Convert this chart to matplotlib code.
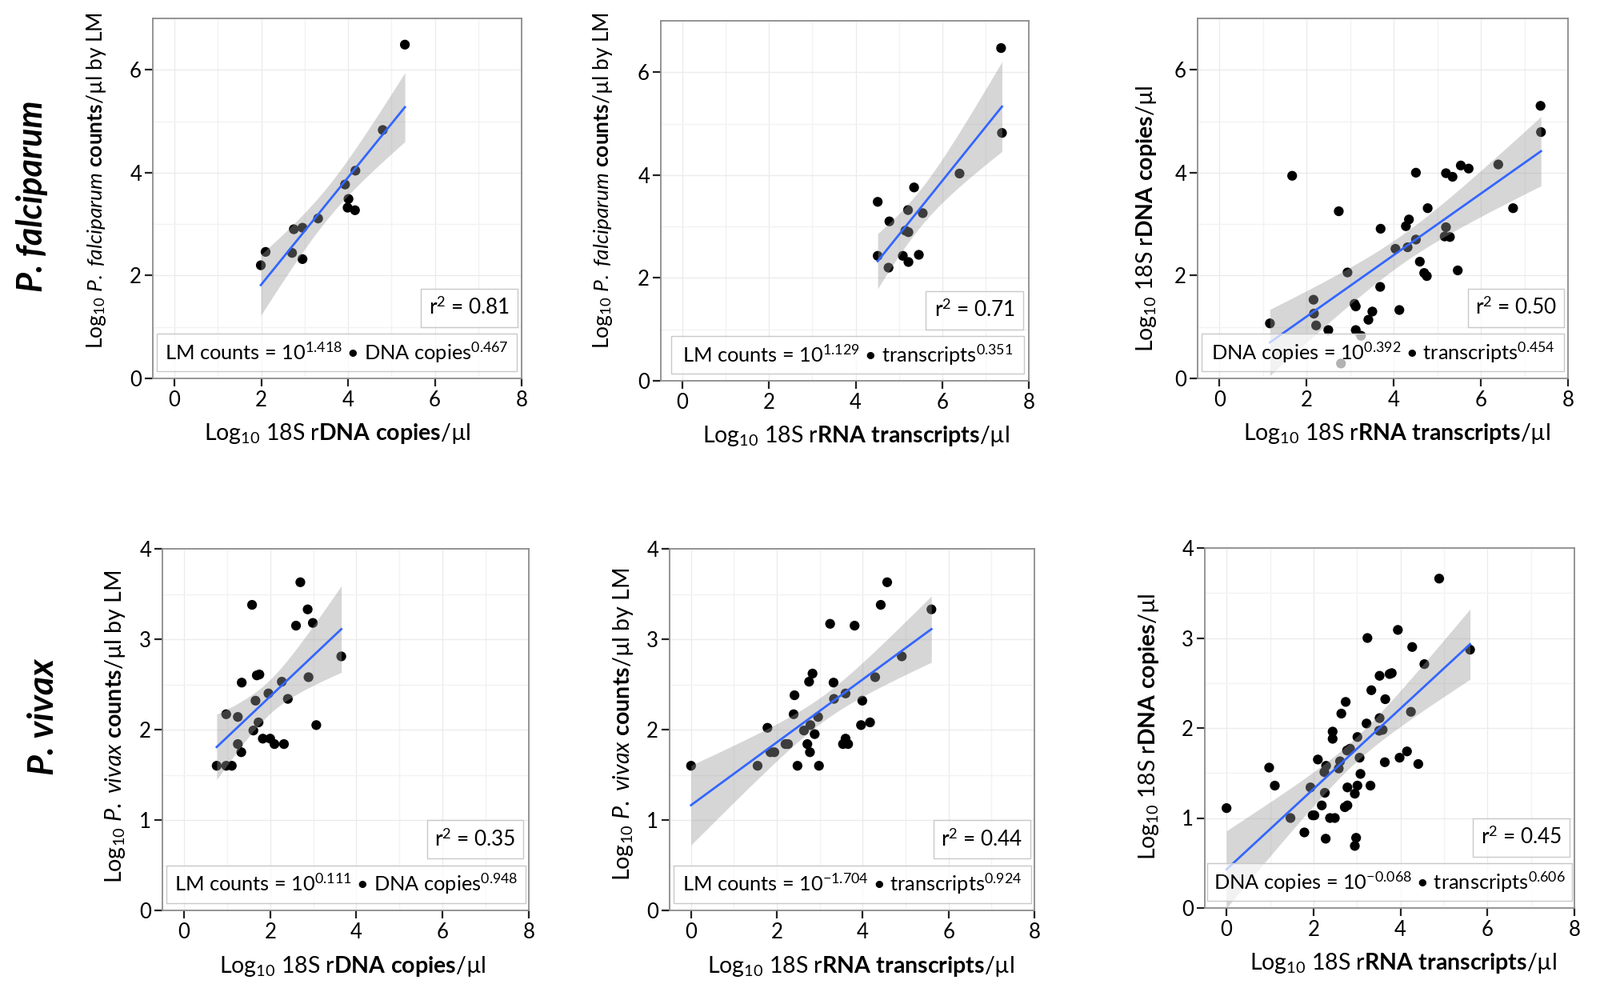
import numpy as np
import matplotlib
matplotlib.use("Agg")
import matplotlib.pyplot as plt
from matplotlib.patches import Rectangle

FONT = "Lato"
plt.rcParams['font.family'] = [FONT, 'DejaVu Sans']
plt.rcParams['mathtext.fontset'] = 'custom'
plt.rcParams['mathtext.rm'] = FONT
plt.rcParams['mathtext.it'] = FONT + ':italic'
plt.rcParams['mathtext.bf'] = FONT + ':bold'

# ---------------- data (log10 values) ----------------
# P. falciparum: DNA copies vs LM counts
pf_dna_x = [5.31, 4.80, 4.17, 3.93, 4.01, 3.99, 4.16, 3.31, 2.75, 2.95, 2.71, 2.95, 2.10, 1.99]
pf_dna_y = [6.49, 4.83, 4.04, 3.77, 3.49, 3.32, 3.27, 3.11, 2.90, 2.93, 2.44, 2.32, 2.46, 2.20]
# P. falciparum: RNA transcripts vs LM counts
pf_rna_x = [7.36, 7.38, 6.40, 5.35, 4.51, 5.21, 5.55, 4.78, 5.15, 5.22, 4.51, 5.09, 5.46, 5.22, 4.76]
pf_rna_y = [6.47, 4.82, 4.03, 3.76, 3.48, 3.32, 3.26, 3.10, 2.92, 2.89, 2.43, 2.43, 2.45, 2.31, 2.20]
# P. falciparum: RNA transcripts vs DNA copies
pf_rd_x = [7.37, 7.38, 6.40, 5.54, 5.72, 5.20, 5.35, 4.51, 1.67, 2.74, 6.74, 4.78, 4.35, 4.28,
           3.70, 5.20, 5.17, 5.29, 4.51, 4.04, 4.32, 4.60, 4.70, 4.76, 5.47, 2.94, 3.69, 2.16,
           3.10, 3.13, 2.17, 4.13, 3.51, 3.42, 1.16, 2.22, 2.50, 3.13, 3.25, 2.79]
pf_rd_y = [5.30, 4.79, 4.16, 4.14, 4.08, 3.99, 3.92, 4.00, 3.94, 3.25, 3.31, 3.31, 3.09, 2.96,
           2.91, 2.94, 2.76, 2.75, 2.70, 2.52, 2.55, 2.27, 2.05, 1.99, 2.10, 2.06, 1.78, 1.53,
           1.45, 1.40, 1.26, 1.33, 1.30, 1.14, 1.07, 1.03, 0.94, 0.94, 0.83, 0.29]
# P. vivax: DNA copies vs LM counts
pv_dna_x = [2.70, 1.58, 2.87, 2.99, 2.60, 3.65, 1.69, 1.75, 2.89, 1.34, 2.27, 1.96, 2.41, 1.66,
            0.98, 1.25, 1.73, 3.07, 1.61, 1.83, 2.00, 2.10, 2.32, 1.25, 1.33, 0.76, 0.98, 1.11]
pv_dna_y = [3.63, 3.38, 3.33, 3.18, 3.15, 2.81, 2.60, 2.61, 2.58, 2.52, 2.53, 2.40, 2.34, 2.32,
            2.17, 2.14, 2.08, 2.05, 1.99, 1.90, 1.90, 1.84, 1.84, 1.84, 1.75, 1.60, 1.60, 1.60]
# P. vivax: RNA transcripts vs LM counts
pv_rna_x = [4.57, 4.42, 5.60, 3.24, 3.81, 4.91, 2.83, 2.75, 3.32, 4.29, 3.60, 2.41, 3.33, 3.99,
            2.39, 2.96, 1.78, 2.78, 3.96, 4.17, 2.63, 2.88, 3.60, 2.20, 2.26, 2.71, 3.54, 3.66,
            1.85, 1.94, 2.77, 0.00, 1.55, 2.48, 2.98]
pv_rna_y = [3.63, 3.38, 3.33, 3.17, 3.15, 2.81, 2.62, 2.53, 2.52, 2.58, 2.40, 2.38, 2.34, 2.32,
            2.17, 2.14, 2.02, 2.05, 2.05, 2.08, 1.99, 1.95, 1.90, 1.84, 1.84, 1.84, 1.84, 1.84,
            1.75, 1.75, 1.75, 1.60, 1.60, 1.60, 1.60]
# P. vivax: RNA transcripts vs DNA copies
pv_rd_x = [4.89, 3.94, 3.24, 4.27, 5.60, 4.55, 3.52, 3.75, 3.80, 3.33, 2.74, 3.65, 2.64, 4.24,
           3.52, 3.22, 2.44, 2.44, 3.01, 3.51, 3.59, 2.77, 2.84, 4.15, 2.10, 2.61, 3.06, 3.98,
           3.64, 4.41, 2.29, 2.58, 2.25, 0.98, 3.08, 1.11, 1.93, 3.31, 2.78, 3.01, 2.26, 2.95,
           2.19, 2.78, 2.72, 0.00, 1.98, 2.02, 1.47, 2.38, 2.49, 1.79, 2.28, 2.98, 2.95]
pv_rd_y = [3.66, 3.09, 3.00, 2.90, 2.87, 2.71, 2.58, 2.60, 2.61, 2.42, 2.29, 2.32, 2.16, 2.18,
           2.11, 2.05, 1.96, 1.88, 1.90, 1.97, 1.98, 1.75, 1.77, 1.74, 1.65, 1.63, 1.67, 1.67,
           1.62, 1.60, 1.58, 1.55, 1.51, 1.56, 1.49, 1.36, 1.34, 1.36, 1.34, 1.36, 1.28, 1.27,
           1.14, 1.14, 1.12, 1.11, 1.03, 1.03, 1.00, 1.00, 1.00, 0.84, 0.77, 0.78, 0.69]

equations = [
    "LM counts = 10$^{1.418}$ • DNA copies$^{0.467}$",
    "LM counts = 10$^{1.129}$ • transcripts$^{0.351}$",
    "DNA copies = 10$^{0.392}$ • transcripts$^{0.454}$",
    "LM counts = 10$^{0.111}$ • DNA copies$^{0.948}$",
    "LM counts = 10$^{-1.704}$ • transcripts$^{0.924}$",
    "DNA copies = 10$^{-0.068}$ • transcripts$^{0.606}$",
]
r2_values = ["0.81", "0.71", "0.50", "0.35", "0.44", "0.45"]

xlab_dna = r"Log$_{10}$ 18S r$\mathbf{DNA\ copies}$/µl"
xlab_rna = r"Log$_{10}$ 18S r$\mathbf{RNA\ transcripts}$/µl"
ylab_pf = r"Log$_{10}$ $\mathit{P.\ falciparum}$ $\mathbf{counts}$/µl by LM"
ylab_pv = r"Log$_{10}$ $\mathit{P.\ vivax}$ $\mathbf{counts}$/µl by LM"
ylab_dna = r"Log$_{10}$ 18S r$\mathbf{DNA\ copies}$/µl"
row_labels = ["P. falciparum", "P. vivax"]

# ---------------- layout ----------------
W, H = 2000, 1250
fig = plt.figure(figsize=(20, 12.5), dpi=100)

def px_axes(l, r, t, b):
    return [l / W, 1 - b / H, (r - l) / W, (b - t) / H]

panels = [
    dict(rect=px_axes(191, 652, 23, 473), x=pf_dna_x, y=pf_dna_y, ylim=7, xlab=xlab_dna, ylab=ylab_pf,
         ylc=(-0.152, 0.55), xlc=0.5, eqbox=(0.011, 0.987), r2box=(0.726, 0.989), yfs=19),
    dict(rect=px_axes(826, 1286, 26, 476), x=pf_rna_x, y=pf_rna_y, ylim=7, xlab=xlab_rna, ylab=ylab_pf,
         ylc=(-0.158, 0.556), xlc=0.53, eqbox=(0.028, 0.987), r2box=(0.72, 0.985), yfs=19),
    dict(rect=px_axes(1497, 1960, 23, 473), x=pf_rd_x, y=pf_rd_y, ylim=7, xlab=xlab_rna, ylab=ylab_dna,
         ylc=(-0.138, 0.444), xlc=0.538, eqbox=(0.011, 0.99), r2box=(0.73, 0.99), yfs=20.5),
    dict(rect=px_axes(203, 661, 686, 1138), x=pv_dna_x, y=pv_dna_y, ylim=4, xlab=xlab_dna, ylab=ylab_pv,
         ylc=(-0.129, 0.509), xlc=0.52, eqbox=(0.011, 0.991), r2box=(0.722, 0.985), yfs=20.6),
    dict(rect=px_axes(837, 1293, 686, 1138), x=pv_rna_x, y=pv_rna_y, ylim=4, xlab=xlab_rna, ylab=ylab_pv,
         ylc=(-0.127, 0.515), xlc=0.525, eqbox=(0.011, 0.991), r2box=(0.724, 0.989), yfs=20.6),
    dict(rect=px_axes(1506, 1968, 685, 1135), x=pv_rd_x, y=pv_rd_y, ylim=4, xlab=xlab_rna, ylab=ylab_dna,
         ylc=(-0.152, 0.504), xlc=0.537, eqbox=(0.007, 0.993), r2box=(0.726, 0.988), yfs=20.5),
]

def t975(df):
    z = 1.959964
    g1 = (z**3 + z) / 4
    g2 = (5 * z**5 + 16 * z**3 + 3 * z) / 96
    g3 = (3 * z**7 + 19 * z**5 + 17 * z**3 - 15 * z) / 384
    return z + g1 / df + g2 / df**2 + g3 / df**3

TICK_FS = 18.5
BOX_FS = 18.3
XLAB_FS = 20.5

for i, p in enumerate(panels):
    ax = fig.add_axes(p["rect"])
    x = np.asarray(p["x"], float)
    y = np.asarray(p["y"], float)
    ax.set_xlim(-0.5, 8)
    ax.set_ylim(0, p["ylim"])
    ax.set_xticks([0, 2, 4, 6, 8])
    ax.set_xticks([1, 3, 5, 7], minor=True)
    if p["ylim"] == 7:
        ax.set_yticks([0, 2, 4, 6])
        ax.set_yticks([1, 3, 5, 7], minor=True)
    else:
        ax.set_yticks([0, 1, 2, 3, 4])
        ax.set_yticks([0.5, 1.5, 2.5, 3.5], minor=True)
    ax.set_axisbelow(True)
    ax.grid(True, which='major', color='#ebebeb', lw=1.0)
    ax.grid(True, which='minor', color='#f2f2f2', lw=1.0)
    ax.tick_params(which='minor', length=0)
    ax.tick_params(which='major', direction='out', length=7, width=1.6, color='#222222',
                   labelsize=TICK_FS, labelcolor='black')
    ax.tick_params(axis='x', pad=4)
    ax.tick_params(axis='y', pad=3)
    for s in ax.spines.values():
        s.set_color('#8c8c8c')
        s.set_linewidth(1.3)

    # points
    ax.scatter(x, y, s=78, color='black', edgecolor='none', zorder=2)

    # linear fit with 95% CI
    n = len(x)
    b1, b0 = np.polyfit(x, y, 1)
    resid = y - (b0 + b1 * x)
    s_err = np.sqrt(np.sum(resid**2) / (n - 2))
    sxx = np.sum((x - x.mean())**2)
    xs = np.linspace(x.min(), x.max(), 100)
    yh = b0 + b1 * xs
    se = s_err * np.sqrt(1 / n + (xs - x.mean())**2 / sxx)
    tq = t975(n - 2)
    ax.fill_between(xs, yh - tq * se, yh + tq * se, color='#999999', alpha=0.4, lw=0, zorder=3)
    ax.plot(xs, yh, color='#3366FF', lw=2.0, zorder=4)

    # annotation boxes
    ex0, ex1 = p["eqbox"]
    ax.add_patch(Rectangle((ex0, 0.02), ex1 - ex0, 0.105, transform=ax.transAxes,
                           facecolor='white', alpha=0.7, edgecolor='none', zorder=5))
    ax.add_patch(Rectangle((ex0, 0.02), ex1 - ex0, 0.105, transform=ax.transAxes,
                           facecolor='none', edgecolor='#c8c8c8', lw=1.0, zorder=6))
    ax.text((ex0 + ex1) / 2, 0.0725, equations[i], transform=ax.transAxes, ha='center',
            va='center', fontsize=BOX_FS, zorder=7)
    rx0, rx1 = p["r2box"]
    ax.add_patch(Rectangle((rx0, 0.143), rx1 - rx0, 0.107, transform=ax.transAxes,
                           facecolor='white', alpha=0.7, edgecolor='none', zorder=5))
    ax.add_patch(Rectangle((rx0, 0.143), rx1 - rx0, 0.107, transform=ax.transAxes,
                           facecolor='none', edgecolor='#c8c8c8', lw=1.0, zorder=6))
    ax.text((rx0 + rx1) / 2, 0.1965, "r$^{2}$ = " + r2_values[i], transform=ax.transAxes,
            ha='center', va='center', fontsize=BOX_FS + 0.5, zorder=7)

    ax.set_xlabel(p["xlab"], fontsize=XLAB_FS, va='baseline')
    ax.xaxis.set_label_coords(p["xlc"], -0.172)
    ax.set_ylabel(p["ylab"], fontsize=p["yfs"], va='center')
    ax.yaxis.set_label_coords(*p["ylc"])

fig.text(40 / W, 1 - 245 / H, row_labels[0], rotation=90, ha='center', va='center',
         fontsize=31, fontweight='bold', style='italic')
fig.text(54 / W, 1 - 896 / H, row_labels[1], rotation=90, ha='center', va='center',
         fontsize=32, fontweight='bold', style='italic')

fig.savefig("out.png", dpi=100, facecolor='white')
